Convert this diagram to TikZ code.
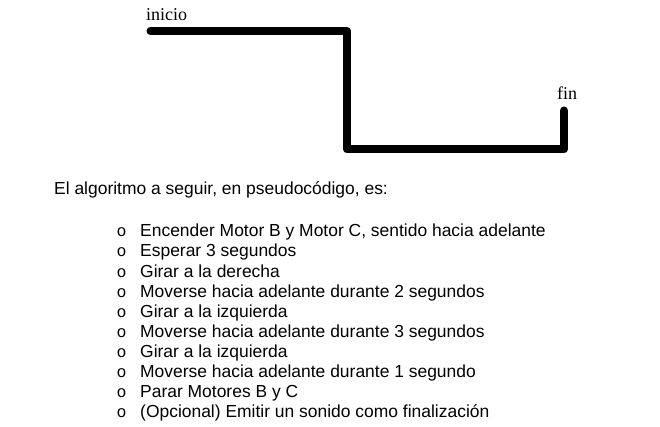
\documentclass[tikz,border=0pt]{standalone}
\usepackage{fontspec,xcolor,tikz}
\setmainfont{Liberation Serif}
\newfontfamily\arialfont{Liberation Sans}
\newfontfamily\courfont{Liberation Mono}
\definecolor{ink}{HTML}{000000}
\newcommand{\tag}{\fontsize{18}{20}\selectfont}
\newcommand{\txt}{\arialfont\fontsize{17.45}{20}\selectfont}
\newcommand{\bul}{\courfont\fontsize{16.5}{20}\selectfont}

\begin{document}
\begin{tikzpicture}[x=1pt,y=-1pt]
\useasboundingbox (0,0) rectangle (660,427);
% recorrido del robot
\coordinate (start) at (150.5,31);
\coordinate (turna) at (347,31);
\coordinate (turnb) at (347,149.5);
\coordinate (turnc) at (564,149.5);
\coordinate (stop) at (564,110.5);
\draw[ink,line width=8pt,line cap=round,line join=round] (start) -- (turna) -- (turnb) -- (turnc) -- (stop);
\node[inner sep=0,anchor=base west,text=ink,font=\tag] (inicio) at (146,21) {inicio};
\node[inner sep=0,anchor=base west,text=ink,font=\tag] (fin) at (557,99.5) {fin};
% pseudocodigo
\node[inner sep=0,anchor=base west,text=ink,font=\txt] (intro) at (54,195) {El algoritmo a seguir, en pseudocódigo, es:};
\node[inner sep=0,anchor=base,text=ink,font=\bul] (b1) at (121.5,237) {o};
\node[inner sep=0,anchor=base west,text=ink,font=\txt] (item1) at (140,237) {Encender Motor B y Motor C, sentido hacia adelante};
\node[inner sep=0,anchor=base,text=ink,font=\bul] (b2) at (121.5,257) {o};
\node[inner sep=0,anchor=base west,text=ink,font=\txt] (item2) at (140,257) {Esperar 3 segundos};
\node[inner sep=0,anchor=base,text=ink,font=\bul] (b3) at (121.5,277) {o};
\node[inner sep=0,anchor=base west,text=ink,font=\txt] (item3) at (140,277) {Girar a la derecha};
\node[inner sep=0,anchor=base,text=ink,font=\bul] (b4) at (121.5,297) {o};
\node[inner sep=0,anchor=base west,text=ink,font=\txt] (item4) at (140,297) {Moverse hacia adelante durante 2 segundos};
\node[inner sep=0,anchor=base,text=ink,font=\bul] (b5) at (121.5,317) {o};
\node[inner sep=0,anchor=base west,text=ink,font=\txt] (item5) at (140,317) {Girar a la izquierda};
\node[inner sep=0,anchor=base,text=ink,font=\bul] (b6) at (121.5,337) {o};
\node[inner sep=0,anchor=base west,text=ink,font=\txt] (item6) at (140,337) {Moverse hacia adelante durante 3 segundos};
\node[inner sep=0,anchor=base,text=ink,font=\bul] (b7) at (121.5,357) {o};
\node[inner sep=0,anchor=base west,text=ink,font=\txt] (item7) at (140,357) {Girar a la izquierda};
\node[inner sep=0,anchor=base,text=ink,font=\bul] (b8) at (121.5,377) {o};
\node[inner sep=0,anchor=base west,text=ink,font=\txt] (item8) at (140,377) {Moverse hacia adelante durante 1 segundo};
\node[inner sep=0,anchor=base,text=ink,font=\bul] (b9) at (121.5,397) {o};
\node[inner sep=0,anchor=base west,text=ink,font=\txt] (item9) at (140,397) {Parar Motores B y C};
\node[inner sep=0,anchor=base,text=ink,font=\bul] (b10) at (121.5,417) {o};
\node[inner sep=0,anchor=base west,text=ink,font=\txt] (item10) at (140,417) {(Opcional) Emitir un sonido como finalización};
\end{tikzpicture}
\end{document}
